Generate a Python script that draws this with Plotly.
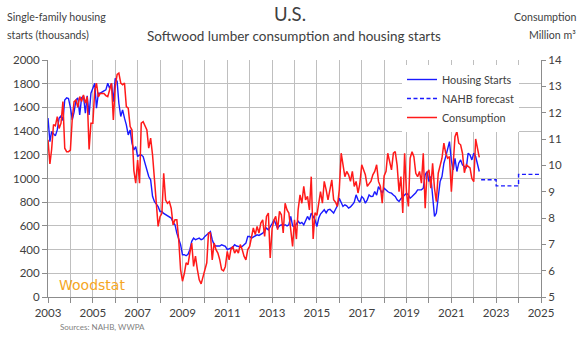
import plotly.graph_objects as go
import pandas as pd

# Single-family housing starts (thousands), monthly Jan 2003 - Apr 2022
starts = [
    1510, 1311, 1396, 1380, 1360, 1410, 1509, 1530, 1490, 1663, 1680, 1675,
    1600, 1494, 1560, 1663, 1680, 1537, 1680, 1697, 1551, 1697, 1537, 1720,
    1762, 1804, 1593, 1720, 1720, 1734, 1740, 1748, 1804, 1762, 1804, 1649,
    1846, 1818, 1635, 1523, 1579, 1509, 1453, 1368, 1410, 1298, 1241, 1269,
    1185, 1199, 1199, 1185, 1130, 1073, 1017, 989, 850, 806, 780, 764,
    722, 722, 705, 694, 680, 670, 666, 630, 610, 539, 480, 441,
    357, 357, 348, 360, 399, 470, 497, 483, 490, 497, 483, 490,
    511, 525, 539, 553, 483, 441, 430, 427, 430, 441, 435, 427,
    399, 405, 413, 420, 441, 430, 427, 420, 427, 440, 455, 511,
    511, 497, 505, 510, 525, 520, 530, 539, 560, 581, 567, 600,
    620, 651, 610, 580, 600, 610, 600, 610, 600, 610, 680, 600,
    590, 620, 640, 620, 630, 609, 650, 680, 650, 708, 680, 651,
    595, 666, 700, 720, 736, 710, 736, 740, 720, 708, 740, 770,
    834, 790, 764, 778, 770, 750, 760, 778, 800, 862, 820, 800,
    848, 830, 792, 820, 862, 848, 850, 890, 860, 932, 900, 876,
    918, 900, 890, 880, 876, 860, 848, 820, 806, 830, 848, 860,
    876, 860, 834, 848, 860, 880, 904, 904, 904, 918, 1031, 1059,
    974, 1017, 876, 680, 708, 862, 974, 1017, 1129, 1185, 1256, 1311,
    1150, 1073, 1171, 1059, 1129, 1157, 1115, 1101, 1087, 1214, 1199, 1157,
    1214, 1185, 1115, 1059,
]

# Softwood lumber consumption (million m3), monthly Jan 2003 - Apr 2022
consumption = [
    10.97, 10.05, 10.6, 11.55, 11.5, 11.85, 11.4, 11.6, 12.42, 10.65, 10.52, 10.52,
    10.58, 11.79, 12.42, 12.48, 12.2, 12.61, 12.42, 12.67, 12.36, 12.61, 10.6, 11.6,
    11.6, 12.86, 13.12, 12.6, 12.73, 12.73, 12.73, 12.65, 12.61, 12.86, 13.12, 11.72,
    13.0, 13.45, 13.5, 13.12, 13.06, 13.12, 12.23, 12.17, 11.47, 11.34, 9.8, 9.32,
    10.2, 9.32, 11.6, 11.66, 11.47, 11.34, 10.65, 11.03, 10.4, 9.5, 8.31, 7.68,
    8.05, 8.18, 9.7, 8.68, 8.56, 8.62, 8.37, 7.74, 7.93, 7.93, 7.17, 6.04,
    5.6, 5.9, 6.3, 6.23, 6.67, 7.05, 6.16, 6.55, 6.04, 5.65, 5.5, 5.8,
    6.04, 6.3, 7.43, 7.43, 6.41, 7.05, 6.8, 6.67, 6.41, 6.04, 5.99, 6.16,
    6.73, 6.41, 6.8, 6.92, 6.67, 6.8, 6.67, 6.99, 6.8, 6.55, 6.41, 6.8,
    6.92, 7.3, 7.62, 7.37, 7.68, 7.43, 7.81, 7.93, 7.3, 8.06, 8.19, 6.48,
    7.6, 7.93, 8.06, 7.56, 8.25, 8.12, 7.43, 8.56, 8.31, 8.19, 7.56, 6.92,
    7.93, 7.2, 8.31, 8.88, 8.56, 9.2, 8.69, 8.82, 8.31, 9.57, 7.2, 8.2,
    8.1, 8.69, 9.0, 8.56, 9.39, 9.07, 8.69, 9.07, 9.45, 8.69, 8.6, 8.44,
    9.07, 10.46, 10.08, 9.57, 9.77, 9.64, 9.39, 9.77, 9.2, 9.39, 8.95, 9.3,
    10.02, 9.83, 9.64, 9.2, 9.32, 9.4, 9.64, 9.77, 10.02, 9.39, 9.2, 8.56,
    9.6, 9.77, 10.46, 10.08, 9.83, 10.46, 10.52, 10.0, 9.0, 9.57, 8.19, 10.46,
    8.95, 8.44, 10.27, 10.52, 10.33, 9.7, 9.57, 9.77, 9.32, 10.46, 8.37, 9.7,
    9.83, 9.13, 10.08, 9.13, 8.62, 9.7, 9.96, 10.27, 10.84, 10.46, 10.27, 10.33,
    9.0, 10.2, 11.09, 11.28, 10.84, 10.78, 10.46, 9.72, 10.02, 9.96, 9.9, 9.5,
    9.38, 11.0, 10.6, 10.3,
]

# NAHB forecast of single-family starts (thousands), step values
forecast_dates = ["2022-05-01", "2023-01-01", "2024-01-01", "2025-01-01"]
forecast_vals = [990, 938, 1035, 1035]

x_labels = [str(y) for y in range(2003, 2026, 2)]

start_dates = pd.date_range("2003-01-01", periods=len(starts), freq="MS")
cons_dates = pd.date_range("2003-01-01", periods=len(consumption), freq="MS")

FONT = "Lato"
TXT = "#404040"
GRID = "#BFBFBF"
AXL = "#8C8C8C"

fig = go.Figure()
fig.add_trace(go.Scatter(x=start_dates, y=starts, mode="lines", name="Housing Starts",
                         line=dict(color="#1A1AFF", width=1.4)))
fig.add_trace(go.Scatter(x=forecast_dates, y=forecast_vals, mode="lines", name="NAHB forecast",
                         line=dict(color="#1A1AFF", width=1.4, dash="4px,2.5px", shape="hv")))
fig.add_trace(go.Scatter(x=cons_dates, y=consumption, mode="lines", name="Consumption",
                         yaxis="y2", line=dict(color="#FF1A1A", width=1.5)))

L, R, T, B = 48, 39, 60, 40
W, H = 580, 337
pw, ph = W - L - R, H - T - B


def px(xp):
    return (xp - L) / pw


def py(yp):
    return (H - B - yp) / ph


fig.update_layout(
    width=W, height=H,
    margin=dict(l=L, r=R, t=T, b=B),
    paper_bgcolor="white", plot_bgcolor="white",
    font=dict(family=FONT, size=12, color=TXT),
    showlegend=True,
    legend=dict(x=px(402), y=py(65), xanchor="left", yanchor="top",
                bgcolor="white", borderwidth=0, font=dict(size=10.8, color=TXT),
                tracegroupgap=0, itemwidth=30),
    xaxis=dict(type="date", range=["2003-01-01", "2025-01-01"],
               tickvals=[f"{y}-01-01" for y in x_labels], ticktext=x_labels,
               showgrid=True, gridcolor=GRID, gridwidth=1,
               minor=dict(dtick="M12", tick0="2003-01-01", showgrid=True, gridcolor=GRID,
                          ticks="outside", ticklen=5, tickcolor=AXL),
               ticks="outside", ticklen=5, tickcolor=AXL,
               showline=True, linecolor=AXL, linewidth=1,
               tickfont=dict(size=11.5, color=TXT), zeroline=False),
    yaxis=dict(range=[0, 2000], dtick=200, showgrid=True, gridcolor=GRID, gridwidth=1,
               ticks="outside", ticklen=5, tickcolor=AXL,
               showline=True, linecolor=AXL, linewidth=1, zeroline=False,
               tickfont=dict(size=11.5, color=TXT)),
    yaxis2=dict(range=[5, 14], dtick=1, overlaying="y", side="right", showgrid=False,
                ticks="outside", ticklen=4, tickcolor=AXL,
                showline=True, linecolor=AXL, linewidth=1, zeroline=False,
                tickfont=dict(size=11.5, color=TXT)),
)

ann = [
    dict(text="U.S.", x=px(290), y=py(14), size=18.5, xanchor="center"),
    dict(text="Softwood lumber consumption and housing starts", x=px(294), y=py(36), size=13.5, xanchor="center"),
    dict(text="Single-family housing", x=px(5), y=py(17), size=10.6, xanchor="left"),
    dict(text="starts (thousands)", x=px(5), y=py(35), size=10.6, xanchor="left"),
    dict(text="Consumption", x=px(578), y=py(17), size=10.6, xanchor="right"),
    dict(text="Million m³", x=px(578), y=py(35), size=10.6, xanchor="right"),
]
for a in ann:
    fig.add_annotation(text=a["text"], x=a["x"], y=a["y"], xref="paper", yref="paper",
                       xanchor=a["xanchor"], yanchor="middle", showarrow=False,
                       font=dict(family=FONT, size=a["size"], color=TXT))

fig.add_annotation(text="Woodstat", x=px(57), y=py(285), xref="paper", yref="paper",
                   xanchor="left", yanchor="middle", showarrow=False,
                   font=dict(family="DejaVu Sans", size=14, color="#F5A623"))
fig.add_annotation(text="Sources: NAHB, WWPA", x=px(58), y=py(327), xref="paper", yref="paper",
                   xanchor="left", yanchor="middle", showarrow=False,
                   font=dict(family=FONT, size=8, color="#7F7F7F"))

fig.write_html("out.html")
